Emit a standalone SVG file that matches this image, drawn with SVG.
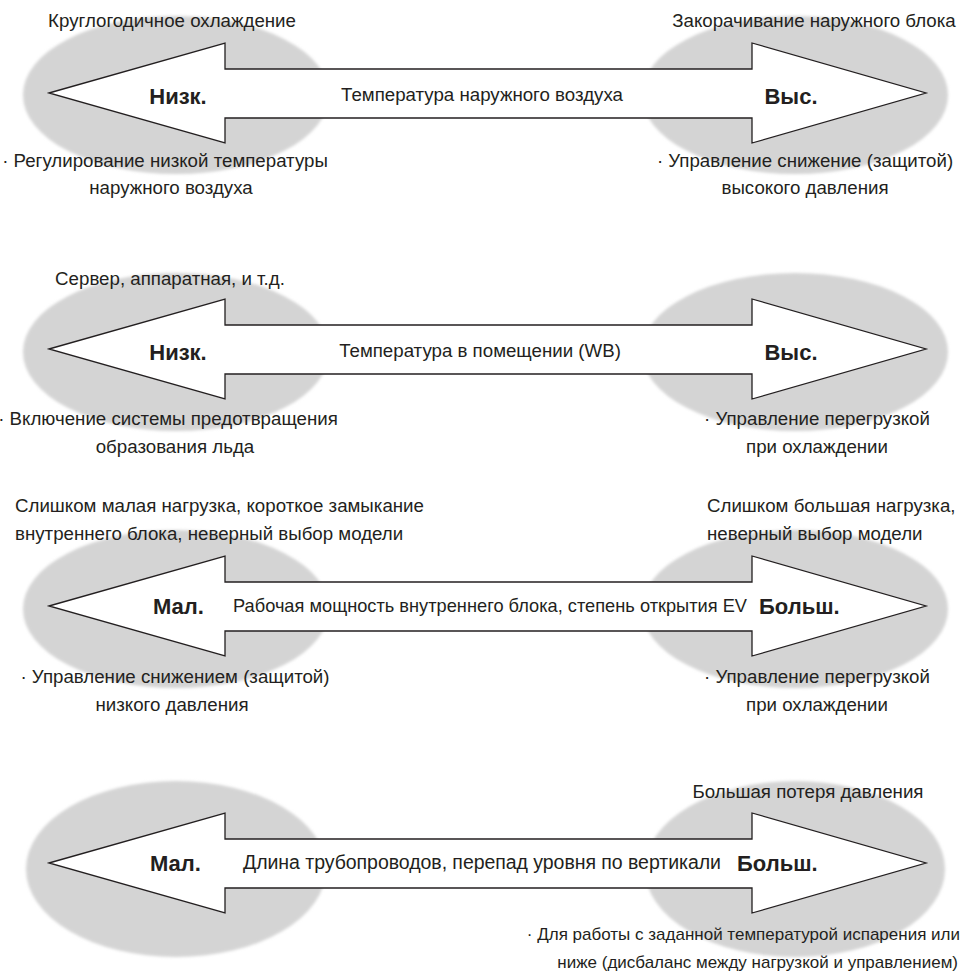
<svg xmlns="http://www.w3.org/2000/svg" width="964" height="972" viewBox="0 0 964 972">
  <defs>
    <filter id="soft" x="-10%" y="-10%" width="120%" height="120%">
      <feGaussianBlur stdDeviation="1.6"/>
    </filter>
    <!-- double-headed arrow, centred on y=0 -->
    <polygon id="dblArrow" points="49,0 225,-50 225,-24 752,-24 752,-50 926,0 752,50 752,25 225,25 225,50"/>
  </defs>
  <style>
    .blob { fill: #d4d4d4; filter: url(#soft); }
    .arrow { fill: #ffffff; stroke: #231f20; stroke-width: 1.3; stroke-linejoin: miter; }
    text { font-family: "Liberation Sans", Arial, sans-serif; fill: #231f20; }
    .t { font-size: 18.7px; }
    .s { font-size: 17px; }
    .b { font-size: 22px; font-weight: bold; }
    .c { text-anchor: middle; }
  </style>

  <!-- grey zones at the low and high ends of each scale -->
  <g id="zones">
    <ellipse class="blob" cx="176" cy="95" rx="153" ry="79"/>
    <ellipse class="blob" cx="795" cy="95" rx="153" ry="79"/>
    <ellipse class="blob" cx="176" cy="352" rx="153" ry="79"/>
    <ellipse class="blob" cx="795" cy="352" rx="153" ry="79"/>
    <ellipse class="blob" cx="176" cy="609" rx="153" ry="79"/>
    <ellipse class="blob" cx="795" cy="609" rx="153" ry="79"/>
    <ellipse class="blob" cx="176" cy="869" rx="150" ry="88"/>
    <ellipse class="blob" cx="795" cy="869" rx="150" ry="88"/>
  </g>

  <!-- scale arrows -->
  <g id="connectors">
    <use href="#dblArrow" class="arrow" transform="translate(0,93)"/>
    <use href="#dblArrow" class="arrow" transform="translate(0,349)"/>
    <use href="#dblArrow" class="arrow" transform="translate(0,606)"/>
    <use href="#dblArrow" class="arrow" transform="translate(0,863)"/>
  </g>

  <!-- outdoor air temperature -->
  <g id="outdoor-temp">
    <text class="t c" x="172" y="27">Круглогодичное охлаждение</text>
    <text class="t c" x="814" y="27">Закорачивание наружного блока</text>
    <text class="b c" x="178" y="104">Низк.</text>
    <text class="t c" x="482" y="101">Температура наружного воздуха</text>
    <text class="b c" x="791" y="104">Выс.</text>
    <text class="t c" x="165" y="167">· Регулирование низкой температуры</text>
    <text class="t c" x="171" y="194">наружного воздуха</text>
    <text class="t c" x="805" y="167">· Управление снижение (защитой)</text>
    <text class="t c" x="805" y="194">высокого давления</text>
  </g>

  <!-- indoor temperature -->
  <g id="indoor-temp">
    <text class="t c" x="170" y="285">Сервер, аппаратная, и т.д.</text>
    <text class="b c" x="178" y="360">Низк.</text>
    <text class="t c" x="480" y="357">Температура в помещении (WB)</text>
    <text class="b c" x="791" y="360">Выс.</text>
    <text class="t c" x="168" y="425">· Включение системы предотвращения</text>
    <text class="t c" x="175" y="453">образования льда</text>
    <text class="t c" x="817" y="425">· Управление перегрузкой</text>
    <text class="t c" x="817" y="453">при охлаждении</text>
  </g>

  <!-- indoor unit capacity / EV opening -->
  <g id="indoor-capacity">
    <text class="t" x="15" y="512">Слишком малая нагрузка, короткое замыкание</text>
    <text class="t" x="15" y="540">внутреннего блока, неверный выбор модели</text>
    <text class="t" x="707" y="512">Слишком большая нагрузка,</text>
    <text class="t" x="707" y="540">неверный выбор модели</text>
    <text class="b" x="153" y="614">Мал.</text>
    <text x="233" y="612" font-size="18.2" textLength="514" lengthAdjust="spacingAndGlyphs">Рабочая мощность внутреннего блока, степень открытия EV</text>
    <text class="b" x="759" y="614">Больш.</text>
    <text class="t c" x="175" y="683">· Управление снижением (защитой)</text>
    <text class="t c" x="172" y="711">низкого давления</text>
    <text class="t c" x="817" y="683">· Управление перегрузкой</text>
    <text class="t c" x="817" y="711">при охлаждении</text>
  </g>

  <!-- piping length / height difference -->
  <g id="piping">
    <text class="t c" x="808" y="798">Большая потеря давления</text>
    <text class="b" x="150" y="871">Мал.</text>
    <text x="243" y="869" font-size="19.5" textLength="478" lengthAdjust="spacing">Длина трубопроводов, перепад уровня по вертикали</text>
    <text class="b" x="737" y="871">Больш.</text>
    <text class="s" x="960" y="940" text-anchor="end">· Для работы с заданной температурой испарения или</text>
    <text class="s" x="958" y="968" text-anchor="end">ниже (дисбаланс между нагрузкой и управлением)</text>
  </g>
</svg>
